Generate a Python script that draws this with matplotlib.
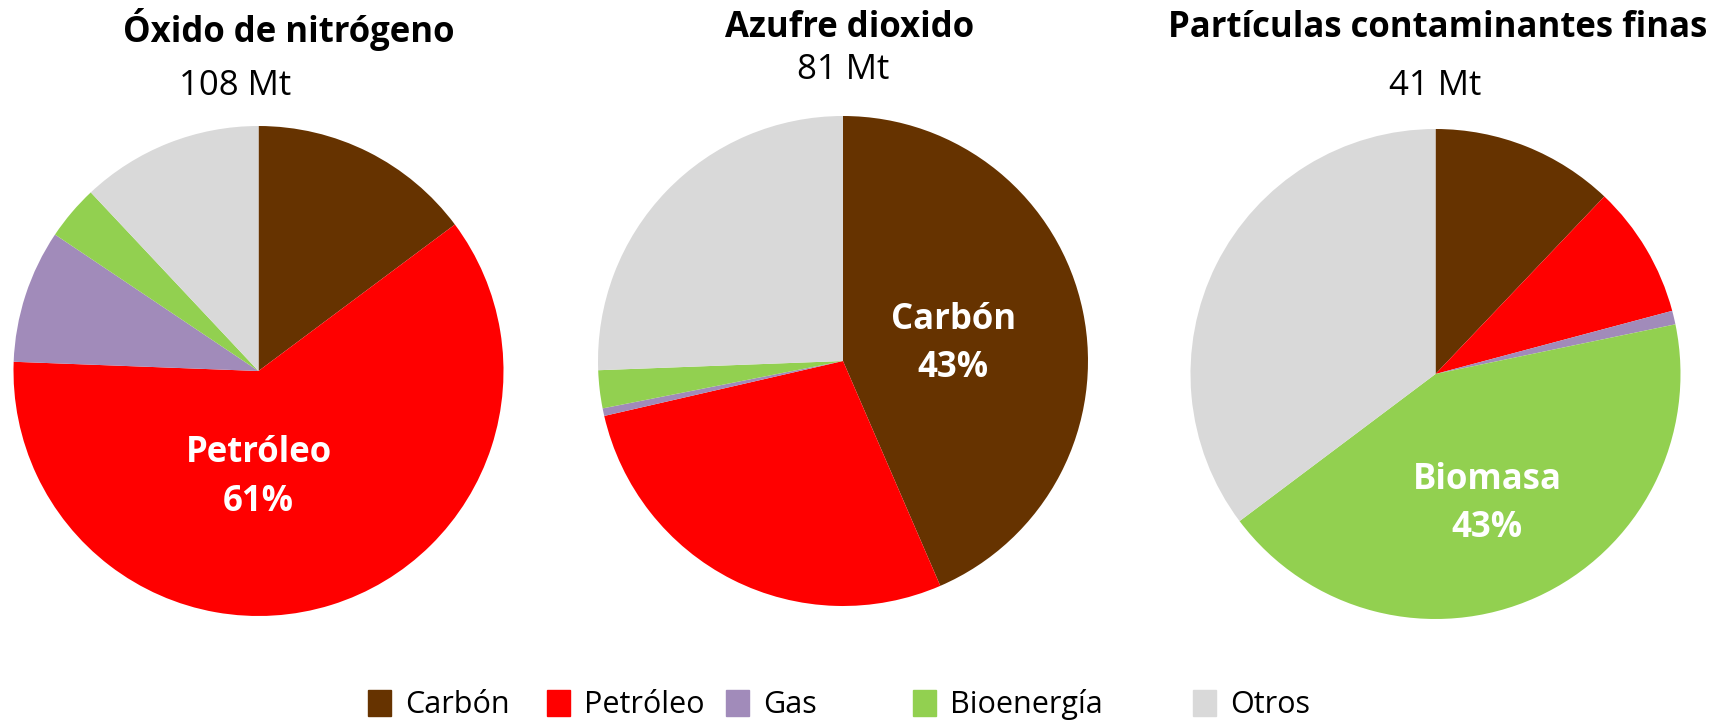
import matplotlib
matplotlib.use("Agg")
import matplotlib.pyplot as plt
from matplotlib.patches import Patch

plt.rcParams['font.family'] = ['Open Sans', 'DejaVu Sans']

# shares (%): Carbón, Petróleo, Gas, Bioenergía, Otros
categories = ['Carbón', 'Petróleo', 'Gas', 'Bioenergía', 'Otros']
colors = ['#663300', '#FF0000', '#A18BBA', '#92D050', '#D9D9D9']

nox = [14.8, 60.8, 8.8, 3.6, 12.0]
so2 = [43.5, 27.9, 0.5, 2.5, 25.6]
pm = [12.1, 8.75, 0.9, 43.0, 35.25]

titles = ['Óxido de nitrógeno', 'Azufre dioxido', 'Partículas contaminantes finas']
totals = ['108 Mt', '81 Mt', '41 Mt']
callouts = [('Petróleo\n61%', 0.0, -0.435),
            ('Carbón\n43%', 0.45, 0.07),
            ('Biomasa\n43%', 0.21, -0.53)]

W, H = 1725, 725
centers = [(258.5, 371), (843, 361), (1435.5, 374)]
R = 245
title_x = [289, 850, 1438]
total_x = [235, 843, 1435.5]
title_base = [42, 37, 37]
total_base = [95, 79, 95]

fig = plt.figure(figsize=(W / 100, H / 100), dpi=100)

for i, vals in enumerate([nox, so2, pm]):
    cx, cy = centers[i]
    ax = fig.add_axes([(cx - R) / W, (H - cy - R) / H, 2 * R / W, 2 * R / H])
    ax.pie(vals, colors=colors, startangle=90, counterclock=False, radius=1,
           wedgeprops=dict(linewidth=0))
    ax.set_xlim(-1, 1)
    ax.set_ylim(-1, 1)
    ax.set_aspect('equal')
    ax.axis('off')
    txt, tx, ty = callouts[i]
    ax.text(tx, ty, txt, ha='center', va='center', color='white',
            fontsize=25, fontweight='bold', linespacing=1.45)
    fig.text(title_x[i] / W, 1 - title_base[i] / H, titles[i], ha='center',
             va='baseline', fontsize=25, fontweight='bold')
    fig.text(total_x[i] / W, 1 - total_base[i] / H, totals[i], ha='center',
             va='baseline', fontsize=25)

# legend entries sit at uneven spots, so one small legend per item
leg_x = [368, 547, 726, 913, 1193]
for name, col, x in zip(categories, colors, leg_x):
    fig.legend(handles=[Patch(color=col, label=name)], loc='center left',
               bbox_to_anchor=(x / W, 1 - 705 / H), frameon=False,
               fontsize=22, handlelength=0.75, handleheight=0.95,
               handletextpad=0.45, borderpad=0, borderaxespad=0)

fig.savefig('out.png', dpi=100)
